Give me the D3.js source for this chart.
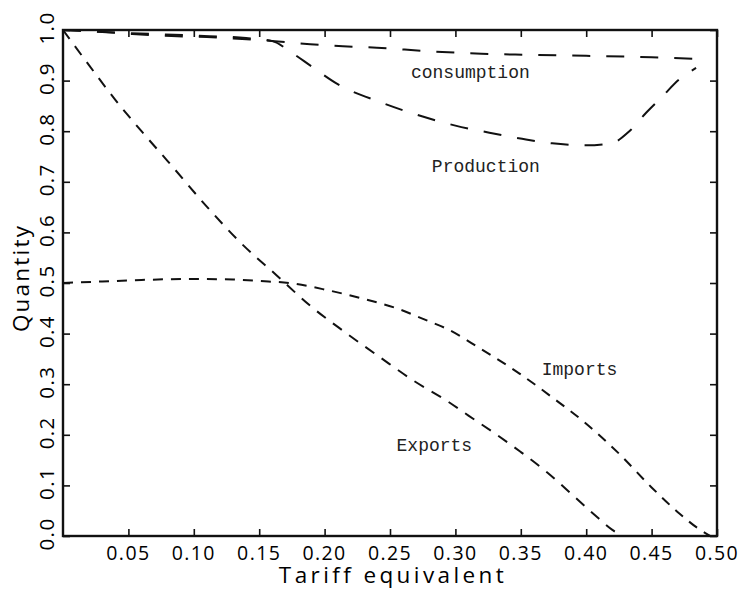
<!DOCTYPE html>
<html>
<head>
<meta charset="utf-8">
<script src="https://cdn.jsdelivr.net/npm/d3@7/dist/d3.min.js"></script>
<style>
  html, body { margin: 0; padding: 0; background: #fff; }
  svg { display: block; }
</style>
</head>
<body>
<svg id="chart" width="747" height="603"></svg>
<script>
// Quantities as functions of the tariff equivalent
const consumption = [[0,1.0],[0.03,0.996],[0.053,0.992],[0.083,0.988],[0.11,0.986],[0.137,0.982],
  [0.162,0.978],[0.189,0.972],[0.214,0.968],[0.24,0.965],[0.28,0.958],[0.32,0.953],[0.356,0.951],
  [0.40,0.949],[0.45,0.946],[0.485,0.943]];
const production = [[0,1.0],[0.05,0.994],[0.10,0.989],[0.14,0.984],[0.16,0.978],[0.175,0.955],
  [0.19,0.928],[0.21,0.893],[0.242,0.858],[0.275,0.829],[0.30,0.811],[0.326,0.797],[0.351,0.785],
  [0.374,0.776],[0.40,0.772],[0.42,0.777],[0.433,0.80],[0.446,0.837],[0.458,0.868],[0.471,0.902],
  [0.484,0.925]];
const imports = [[0,0.5],[0.03,0.503],[0.06,0.506],[0.10,0.508],[0.13,0.507],[0.15,0.504],
  [0.176,0.499],[0.202,0.486],[0.228,0.47],[0.255,0.45],[0.28,0.424],[0.293,0.41],[0.318,0.372],
  [0.349,0.321],[0.374,0.274],[0.40,0.222],[0.425,0.163],[0.45,0.096],[0.471,0.045],[0.485,0.016],
  [0.495,0.0]];
const exports = [[0,1.0],[0.02,0.93],[0.04,0.862],[0.06,0.80],[0.08,0.741],[0.111,0.648],
  [0.136,0.579],[0.163,0.516],[0.189,0.455],[0.216,0.402],[0.243,0.352],[0.268,0.307],[0.293,0.268],
  [0.31,0.238],[0.33,0.203],[0.35,0.166],[0.37,0.126],[0.39,0.08],[0.405,0.045],[0.42,0.012],
  [0.427,0.0]];

const xTicks = [0.05,0.10,0.15,0.20,0.25,0.30,0.35,0.40,0.45,0.50];
const yTicks = [0.0,0.1,0.2,0.3,0.4,0.5,0.6,0.7,0.8,0.9,1.0];

const seriesLabels = [
  {name: "consumption", at: [0.266, 0.906]},
  {name: "Production",  at: [0.282, 0.719]},
  {name: "Imports",     at: [0.366, 0.319]},
  {name: "Exports",     at: [0.255, 0.167]}
];

const svg = d3.select("#chart");
const frame = {left: 63, right: 717, top: 30, bottom: 536};

const x = d3.scaleLinear().domain([0, 0.5]).range([frame.left, frame.right]);
const y = d3.scaleLinear().domain([0, 1.0]).range([frame.bottom, frame.top]);

const axisFont = "'Open Sans', 'DejaVu Sans', sans-serif";
const ink = "#111";

// inward ticks on all four sides
const tickLen = 7;
svg.append("g")
  .attr("transform", `translate(0,${frame.bottom})`)
  .call(d3.axisTop(x).tickValues(xTicks).tickSize(tickLen).tickFormat(""))
  .call(g => g.select(".domain").remove());
svg.append("g")
  .attr("transform", `translate(0,${frame.top})`)
  .call(d3.axisBottom(x).tickValues(xTicks).tickSize(tickLen).tickFormat(""))
  .call(g => g.select(".domain").remove());
svg.append("g")
  .attr("transform", `translate(${frame.left},0)`)
  .call(d3.axisRight(y).tickValues(yTicks).tickSize(tickLen).tickFormat(""))
  .call(g => g.select(".domain").remove());
svg.append("g")
  .attr("transform", `translate(${frame.right},0)`)
  .call(d3.axisLeft(y).tickValues(yTicks).tickSize(tickLen).tickFormat(""))
  .call(g => g.select(".domain").remove());
svg.selectAll(".tick line").attr("stroke", ink).attr("stroke-width", 1.6);

// plot frame
svg.append("rect")
  .attr("x", frame.left).attr("y", frame.top)
  .attr("width", frame.right - frame.left).attr("height", frame.bottom - frame.top)
  .attr("fill", "none").attr("stroke", ink).attr("stroke-width", 2.4);

// x tick labels
svg.append("g").selectAll("text").data(xTicks).join("text")
  .attr("x", d => x(d))
  .attr("y", 560)
  .attr("text-anchor", "middle")
  .attr("font-family", axisFont).attr("font-weight", 400)
  .attr("font-size", 19.5).attr("letter-spacing", 1.4).attr("fill", "#000")
  .text(d => d3.format(".2f")(d));

// y tick labels, rotated
svg.append("g").selectAll("text").data(yTicks).join("text")
  .attr("transform", d => `translate(${frame.left - 9},${y(d) - 2}) rotate(-90)`)
  .attr("text-anchor", "middle")
  .attr("font-family", axisFont).attr("font-weight", 400)
  .attr("font-size", 20.5).attr("letter-spacing", 1.4).attr("fill", "#000")
  .text(d => d3.format(".1f")(d));

// axis titles
svg.append("text")
  .attr("x", 393).attr("y", 583)
  .attr("text-anchor", "middle")
  .attr("font-family", axisFont).attr("font-weight", 400)
  .attr("font-size", 22.5).attr("letter-spacing", 3.4).attr("fill", "#000")
  .text("Tariff equivalent");
svg.append("text")
  .attr("transform", `translate(29,278) rotate(-90)`)
  .attr("text-anchor", "middle")
  .attr("font-family", axisFont).attr("font-weight", 400)
  .attr("font-size", 22.5).attr("letter-spacing", 2.2).attr("fill", "#000")
  .text("Quantity");

// curves
const line = d3.line()
  .x(d => x(d[0]))
  .y(d => y(d[1]))
  .curve(d3.curveMonotoneX);

const curves = [
  {data: consumption, dash: "18,16"},
  {data: production,  dash: "18,16"},
  {data: imports,     dash: "10,8"},
  {data: exports,     dash: "11,9"}
];
svg.append("g").selectAll("path").data(curves).join("path")
  .attr("d", d => line(d.data))
  .attr("fill", "none")
  .attr("stroke", ink)
  .attr("stroke-width", 2)
  .attr("stroke-dasharray", d => d.dash);

// curve labels
svg.append("g").selectAll("text").data(seriesLabels).join("text")
  .attr("x", d => x(d.at[0]))
  .attr("y", d => y(d.at[1]))
  .attr("font-family", "'Liberation Mono', 'DejaVu Sans Mono', monospace")
  .attr("font-size", 18).attr("fill", "#222")
  .text(d => d.name);
</script>
</body>
</html>
